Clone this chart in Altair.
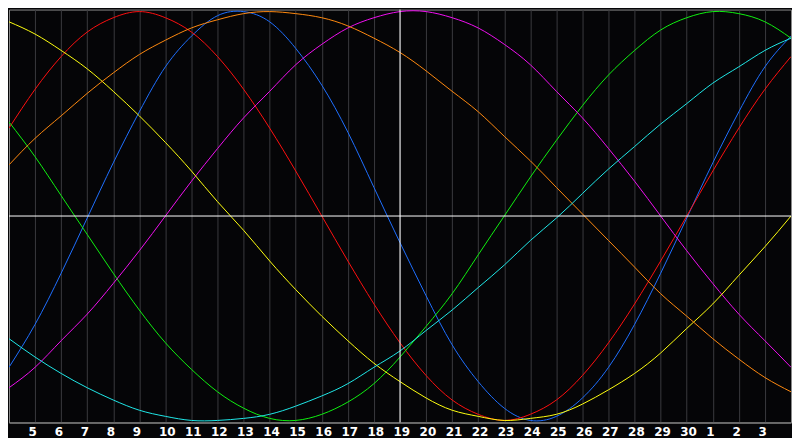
import altair as alt
import pandas as pd

# Day positions (day 4 of this month .. day 4 of next month, 31 == "1")
days = list(range(4, 35))

# Values for each day (-1 .. 1)
physical_23 = [-0.74, -0.53, -0.28, -0.01, 0.26, 0.51, 0.73, 0.88, 0.98, 1.00, 0.95, 0.82, 0.64, 0.41, 0.14,
               -0.13, -0.39, -0.63, -0.81, -0.94, -1.00, -0.98, -0.89, -0.74, -0.53, -0.28, -0.01, 0.26, 0.51, 0.73, 0.88]
emotional_28 = [0.43, 0.62, 0.78, 0.90, 0.97, 1.00, 0.97, 0.90, 0.78, 0.62, 0.43, 0.22, 0.00, -0.22, -0.43,
                -0.62, -0.78, -0.90, -0.97, -1.00, -0.97, -0.90, -0.78, -0.62, -0.43, -0.22, 0.00, 0.22, 0.43, 0.62, 0.78]
intellectual_33 = [0.46, 0.29, 0.10, -0.09, -0.28, -0.46, -0.62, -0.75, -0.86, -0.94, -0.99, -1.00, -0.97, -0.91, -0.82,
                   -0.69, -0.54, -0.38, -0.19, 0.00, 0.19, 0.37, 0.54, 0.69, 0.81, 0.91, 0.97, 1.00, 0.99, 0.95, 0.87]
intuitive_38 = [-0.84, -0.74, -0.61, -0.48, -0.33, -0.17, 0.00, 0.17, 0.33, 0.48, 0.61, 0.74, 0.84, 0.92, 0.97,
                1.00, 1.00, 0.97, 0.92, 0.84, 0.74, 0.61, 0.48, 0.33, 0.17, 0.00, -0.17, -0.33, -0.48, -0.61, -0.74]
aesthetic_43 = [0.95, 0.89, 0.81, 0.72, 0.61, 0.49, 0.36, 0.22, 0.07, -0.07, -0.22, -0.36, -0.49, -0.61, -0.72,
                -0.81, -0.89, -0.95, -0.98, -1.00, -0.99, -0.97, -0.92, -0.85, -0.77, -0.67, -0.55, -0.43, -0.29, -0.15, 0.00]
awareness_48 = [0.25, 0.38, 0.49, 0.60, 0.70, 0.79, 0.86, 0.92, 0.96, 0.99, 1.00, 0.99, 0.97, 0.93, 0.87,
                0.80, 0.71, 0.61, 0.51, 0.39, 0.27, 0.14, 0.01, -0.12, -0.25, -0.38, -0.49, -0.60, -0.70, -0.79, -0.86]
spiritual_53 = [-0.60, -0.69, -0.77, -0.84, -0.90, -0.95, -0.98, -1.00, -1.00, -0.99, -0.97, -0.93, -0.88, -0.82, -0.74,
                -0.66, -0.56, -0.46, -0.35, -0.24, -0.12, -0.01, 0.11, 0.23, 0.34, 0.45, 0.55, 0.65, 0.73, 0.81, 0.87]

series_names = ["Physical", "Emotional", "Intellectual", "Intuitive", "Aesthetic", "Self-awareness", "Spiritual"]
series_values = [physical_23, emotional_28, intellectual_33, intuitive_38, aesthetic_43, awareness_48, spiritual_53]
series_colors = ["#1f6fff", "#ff1010", "#10f010", "#f010f0", "#ffff10", "#ff8a10", "#20e8e8"]

tick_days = list(range(5, 34))
tick_labels = ["5", "6", "7", "8", "9", "10", "11", "12", "13", "14", "15", "16", "17", "18", "19", "20",
               "21", "22", "23", "24", "25", "26", "27", "28", "29", "30", "1", "2", "3"]
today = [19]
zero = [0]

rows = []
for name, vals in zip(series_names, series_values):
    for d, v in zip(days, vals):
        rows.append({"day": d, "value": v, "series": name})
df = pd.DataFrame(rows)

label_expr = "[" + ",".join("'" + t + "'" for t in tick_labels) + "][datum.value - 5]"

x_scale = alt.Scale(domain=[4, 34], nice=False, zero=False)
y_scale = alt.Scale(domain=[-1.01, 1.01], nice=False, zero=False)

x_axis = alt.Axis(
    values=tick_days, labelExpr=label_expr, title=None, grid=True, gridColor="#3a3a3e",
    gridWidth=1, ticks=False, domain=True, domainColor="#8a8a8a", domainWidth=1,
    labelColor="#ffffff", labelFont="DejaVu Sans", labelFontWeight="bold", labelFontSize=12,
    labelAlign="left", labelOffset=-7, labelPadding=4, labelFlush=False, labelOverlap=False,
)

lines = alt.Chart(df).mark_line(strokeWidth=1, interpolate="natural", clip=True).encode(
    x=alt.X("day:Q", scale=x_scale, axis=x_axis),
    y=alt.Y("value:Q", scale=y_scale, axis=None),
    color=alt.Color("series:N", scale=alt.Scale(domain=series_names, range=series_colors), legend=None),
    detail="series:N",
)

zero_line = alt.Chart(pd.DataFrame({"value": zero})).mark_rule(color="#ffffff", strokeWidth=1).encode(
    y=alt.Y("value:Q", scale=y_scale, axis=None)
)
today_line = alt.Chart(pd.DataFrame({"day": today})).mark_rule(color="#ffffff", strokeWidth=1).encode(
    x=alt.X("day:Q", scale=x_scale, axis=x_axis)
)

chart = alt.layer(lines, zero_line, today_line).properties(
    width=784, height=414, padding=0, background="#050507"
).configure_view(
    stroke="#8a8a8a", strokeWidth=1, fill="#050507"
)

chart.save("out.html", embed_options={"renderer": "svg", "actions": False})
